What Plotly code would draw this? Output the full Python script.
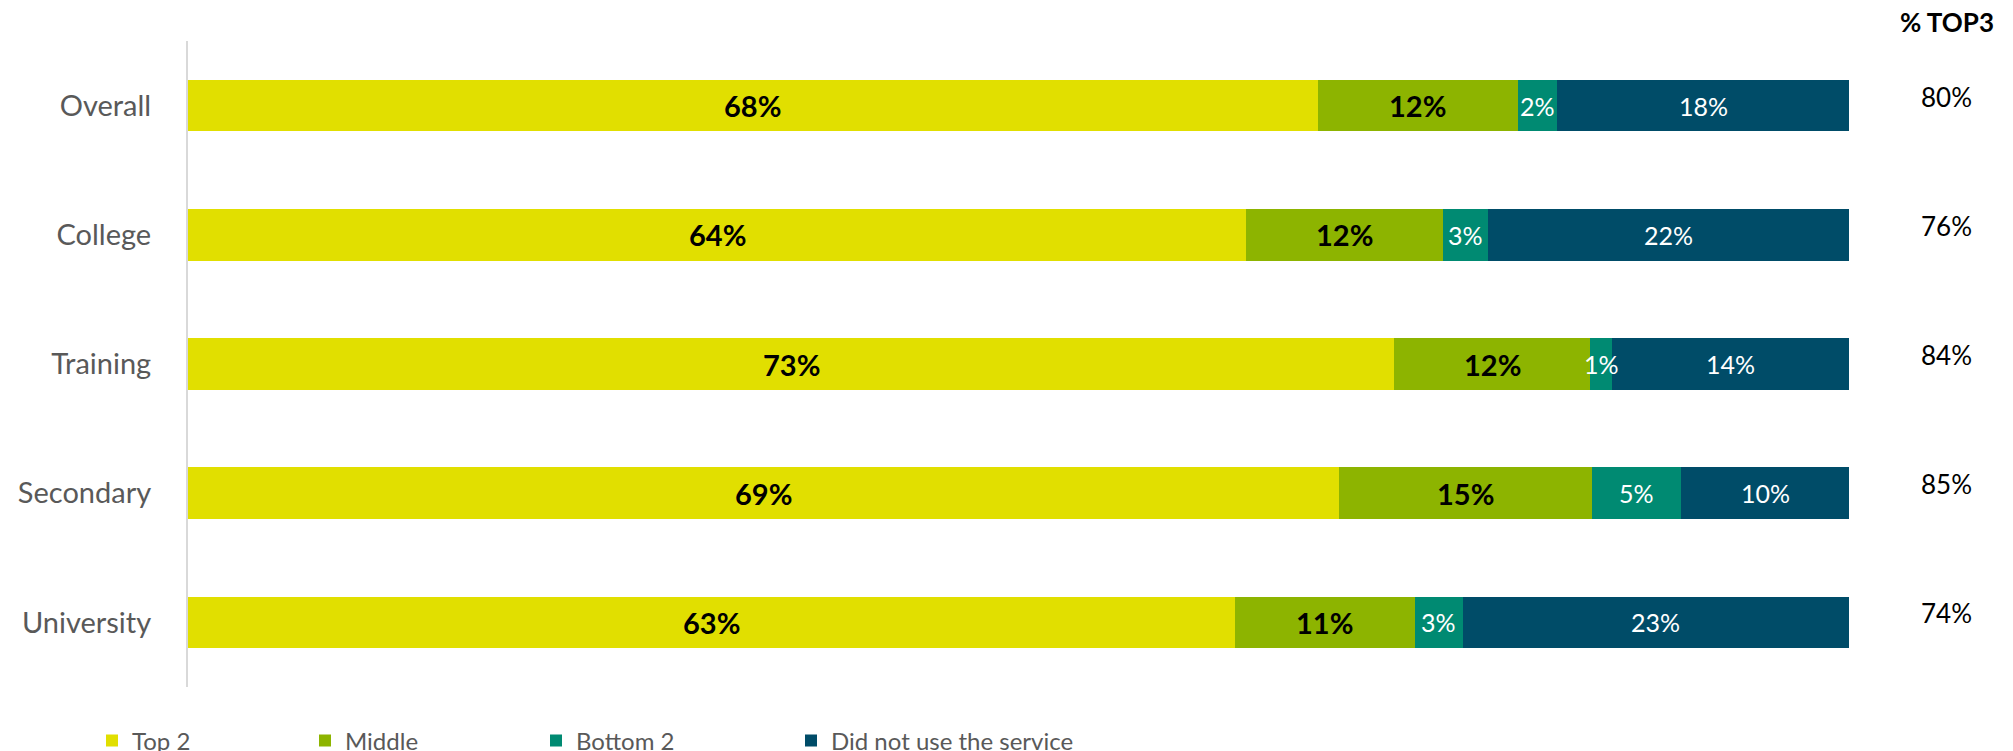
import plotly.graph_objects as go

categories = ["Overall", "College", "Training", "Secondary", "University"]
series_names = ["Top 2", "Middle", "Bottom 2", "Did not use the service"]
top2 = [68.03, 63.70, 72.61, 69.30, 63.03]
middle = [12.04, 11.86, 11.80, 15.20, 10.84]
bottom2 = [2.35, 2.71, 1.32, 5.40, 2.89]
not_used = [17.58, 21.73, 14.27, 10.10, 23.24]
top3_labels = ["80%", "76%", "84%", "85%", "74%"]

colors = ["#E1DF00", "#8DB400", "#008A72", "#004C68"]
label_colors = ["#000000", "#000000", "#FFFFFF", "#FFFFFF"]
label_bold = [True, True, False, False]
label_sizes = [29, 29, 25, 25]

FONT = "Lato, Open Sans, sans-serif"
W, H = 2013, 751
ML, MR, MT, MB = 188, W - 1849, 41, H - 687
PW, PH = W - ML - MR, H - MT - MB

series = [top2, middle, bottom2, not_used]
legend_ids = ["legend", "legend2", "legend3", "legend4"]
legend_px = [92, 305, 536, 791]

fig = go.Figure()
for i, (name, vals) in enumerate(zip(series_names, series)):
    fig.add_trace(go.Bar(
        y=categories, x=vals, name=name, orientation="h",
        marker=dict(color=colors[i], line=dict(width=0)),
        legend=legend_ids[i], hoverinfo="x+name",
    ))

annotations = []
starts = [0.0] * len(categories)
for i, vals in enumerate(series):
    for j, v in enumerate(vals):
        txt = f"{round(v):d}%"
        if label_bold[i]:
            txt = f"<b>{txt}</b>"
        annotations.append(dict(
            x=starts[j] + v / 2, y=categories[j], xref="x", yref="y",
            text=txt, showarrow=False, xanchor="center", yanchor="middle",
            font=dict(family=FONT, size=label_sizes[i], color=label_colors[i]),
        ))
        starts[j] += v

top3_x = (1947 - ML) / PW
for j, c in enumerate(categories):
    annotations.append(dict(
        x=top3_x, y=c, xref="paper", yref="y", text=top3_labels[j],
        showarrow=False, xanchor="center", yanchor="middle", yshift=9,
        font=dict(family=FONT, size=26, color="#000000"),
    ))
annotations.append(dict(
    x=top3_x, y=(H - MB - 22) / PH, xref="paper", yref="paper",
    text="<b>% TOP3</b>", showarrow=False, xanchor="center", yanchor="middle",
    font=dict(family=FONT, size=26, color="#000000"),
))

layout_legends = {}
for k, lid in enumerate(legend_ids):
    layout_legends[lid] = dict(
        x=legend_px[k] / W, y=(H - 741) / H, xref="container", yref="container",
        xanchor="left", yanchor="middle", orientation="h",
        font=dict(family=FONT, size=24, color="#595959"),
        bgcolor="rgba(0,0,0,0)", borderwidth=0,
        itemclick=False, itemdoubleclick=False,
    )

fig.update_layout(
    width=W, height=H,
    barmode="stack", bargap=0.6,
    plot_bgcolor="white", paper_bgcolor="white",
    margin=dict(l=ML, r=MR, t=MT, b=MB, autoexpand=False),
    font=dict(family=FONT, color="#595959"),
    xaxis=dict(range=[0, 100], visible=False, showgrid=False, zeroline=False, fixedrange=True),
    yaxis=dict(
        categoryorder="array", categoryarray=categories, autorange="reversed",
        showline=True, linecolor="#D9D9D9", linewidth=2, showgrid=False,
        ticks="", ticklabelstandoff=29,
        tickfont=dict(family=FONT, size=29, color="#595959"),
        fixedrange=True,
    ),
    annotations=annotations,
    showlegend=True,
    **layout_legends,
)

fig.write_html(
    "out.html",
    config={"displayModeBar": False},
    post_script="document.body.style.margin='0';document.body.style.overflow='hidden';",
)
